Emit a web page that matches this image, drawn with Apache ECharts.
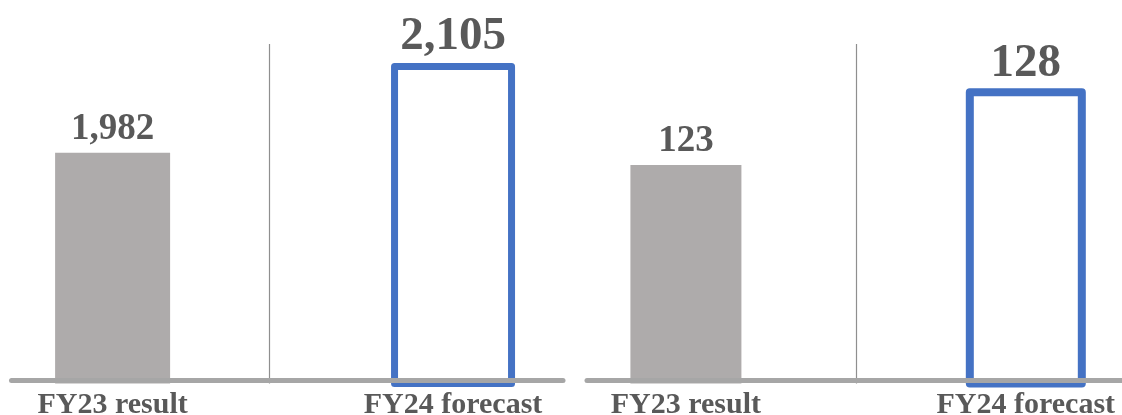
<!DOCTYPE html>
<html>
<head>
<meta charset="utf-8">
<script src="https://cdn.jsdelivr.net/npm/echarts@6/dist/echarts.min.js"></script>
<style>
  html, body { margin: 0; padding: 0; background: #ffffff; }
  #chart { width: 1122px; height: 415px; }
</style>
</head>
<body>
<div id="chart"></div>
<script>
// ---- data ----
const categories = ['FY23 result', 'FY24 forecast'];
const leftValues = [1982, 2105];
const rightValues = [123, 128];

// ---- styles / layout ----
const FONT = '"Liberation Serif", "Times New Roman", serif';
const TEXT = '#595959';
const GRAY = '#AEABAB';
const BLUE = '#4472C4';
const AXIS = '#A6A6A6';

const panels = [
  { values: leftValues, grid: { left: 11.5, right: 559, top: 44, bottom: 31.5, outerBoundsMode: 'none', containLabel: false },
    xMin: -0.297, xMax: 1.323, yMin: 1665.5, yMax: 2131,
    grayWidth: 115, blueWidth: 124, border: 7, blueDist: 3, divider: 0.4624 },
  { values: rightValues, grid: { left: 587, right: 0, top: 44, bottom: 31.5, outerBoundsMode: 'none', containLabel: false },
    xMin: -0.291, xMax: 1.283, yMin: 108.76, yMax: 130.89,
    grayWidth: 111, blueWidth: 120, border: 8, blueDist: 1, divider: 0.4985 }
];

const fmt = v => v.toLocaleString('en-US');

const grid = panels.map(p => p.grid);
const xAxis = [];
panels.forEach((p, i) => {
  xAxis.push({
    type: 'value', gridIndex: i, min: p.xMin, max: p.xMax, z: 5, offset: -3,
    axisLine: { show: true, onZero: false, lineStyle: { color: AXIS, width: 5 } },
    axisTick: { show: false },
    splitLine: { show: false },
    axisLabel: {
      show: true, customValues: [0, 1], margin: 10,
      formatter: v => categories[Math.round(v)] || '',
      fontFamily: FONT, fontWeight: 'bold', fontSize: 30, color: TEXT
    }
  });
  xAxis.push({
    type: 'value', gridIndex: i, min: p.xMin, max: p.xMax, show: false,
    splitLine: { show: false }
  });
});
const yAxis = panels.map((p, i) => ({
  type: 'value', gridIndex: i, min: p.yMin, max: p.yMax, show: false,
  splitLine: { show: false }
}));

const series = [];
panels.forEach((p, i) => {
  series.push({
    type: 'bar', name: categories[0], xAxisIndex: 2 * i, yAxisIndex: i,
    barWidth: p.grayWidth,
    data: [[0, p.values[0]]],
    itemStyle: { color: GRAY },
    label: { show: true, position: 'top', distance: 5,
      formatter: q => fmt(q.value[1]),
      fontFamily: FONT, fontWeight: 'bold', fontSize: 37, color: TEXT },
    markLine: {
      silent: true, symbol: ['none', 'none'], label: { show: false },
      lineStyle: { type: 'solid', color: '#8f8f8f', width: 1.2 },
      data: [{ xAxis: p.divider }]
    },
    silent: true
  });
  series.push({
    type: 'bar', name: categories[1], xAxisIndex: 2 * i + 1, yAxisIndex: i,
    barWidth: p.blueWidth,
    data: [[1, p.values[1]]],
    itemStyle: { color: 'rgba(255,255,255,0)', borderColor: BLUE, borderWidth: p.border, borderJoin: 'round' },
    label: { show: true, position: 'top', distance: p.blueDist,
      formatter: q => fmt(q.value[1]),
      fontFamily: FONT, fontWeight: 'bold', fontSize: 47, color: TEXT },
    silent: true
  });
});

const chart = echarts.init(document.getElementById('chart'), null, { renderer: 'canvas' });
chart.setOption({
  animation: false,
  backgroundColor: '#ffffff',
  grid, xAxis, yAxis, series
});
</script>
</body>
</html>
